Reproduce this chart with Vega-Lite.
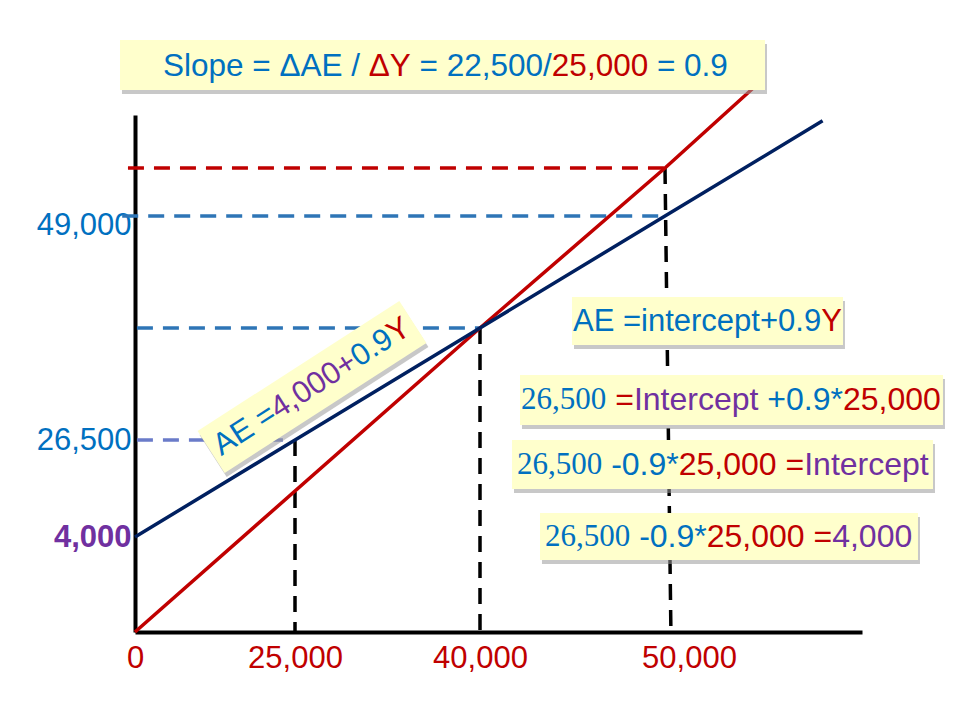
{
  "$schema": "https://vega.github.io/schema/vega-lite/v6.json",
  "width": 727,
  "height": 517,
  "autosize": {"type": "none"},
  "padding": {"left": 135, "top": 115, "right": 98, "bottom": 88},
  "background": "white",
  "config": {"view": {"stroke": null}, "font": "Liberation Sans", "axis": {"labelFont": "Liberation Sans"}},
  "datasets": {
    "lines": [
      {"series": "45-degree line", "x": 0, "y": 0},
      {"series": "45-degree line", "x": 40000, "y": 40000},
      {"series": "45-degree line", "x": 50000, "y": 50000},
      {"series": "45-degree line", "x": 54720, "y": 51590},
      {"series": "AE", "x": 0, "y": 4000},
      {"series": "AE", "x": 25000, "y": 26500},
      {"series": "AE", "x": 40000, "y": 40000},
      {"series": "AE", "x": 50000, "y": 49000},
      {"series": "AE", "x": 58000, "y": 50890}
    ],
    "guides": [
      {"ref": "income level", "x": -1100, "x2": 50000, "y": 50000, "y2": 50000},
      {"ref": "AE level", "x": -2000, "x2": 50000, "y": 49000, "y2": 49000},
      {"ref": "AE level", "x": 300, "x2": 40000, "y": 40000, "y2": 40000},
      {"ref": "AE at 25,000", "x": 300, "x2": 23900, "y": 26500, "y2": 26500},
      {"ref": "Y level", "x": 25000, "x2": 25000, "y": 26500, "y2": 0},
      {"ref": "Y level", "x": 40000, "x2": 40000, "y": 40000, "y2": 0},
      {"ref": "Y level", "x": 50000, "x2": 50300, "y": 50000, "y2": 0}
    ],
    "boxes": [
      {"box": "slope", "x": -2344, "x2": 55076, "y": 52415, "y2": 51472},
      {"box": "equation", "x": 44973, "x2": 59035, "y": 42491, "y2": 37951},
      {"box": "step1", "x": 42162, "x2": 64111, "y": 34335, "y2": 28308},
      {"box": "step2", "x": 41730, "x2": 63604, "y": 26500, "y2": 15134},
      {"box": "step3", "x": 43243, "x2": 62842, "y": 9567, "y2": 3031}
    ],
    "tilted": [
      {"box": "AE label", "x": 26378, "y": 32889}
    ],
    "texts": [
      {"box": "slope", "text": "Slope = ΔAE /", "term": "text", "x": 4375, "y": 51906},
      {"box": "slope", "text": "ΔY", "term": "income", "x": 30984, "y": 51906},
      {"box": "slope", "text": "= 22,500/", "term": "text", "x": 35103, "y": 51906},
      {"box": "slope", "text": "25,000", "term": "income", "x": 43884, "y": 51906},
      {"box": "slope", "text": "= 0.9", "term": "text", "x": 49561, "y": 51906},
      {"box": "equation", "text": "AE =intercept+0.9", "term": "text", "x": 45027, "y": 40482},
      {"box": "equation", "text": "Y", "term": "income", "x": 57929, "y": 40482},
      {"box": "step1", "text": "26,500", "term": "ae", "x": 42216, "y": 31322},
      {"box": "step1", "text": "=", "term": "income", "x": 47308, "y": 31322},
      {"box": "step1", "text": "Intercept", "term": "intercept", "x": 48318, "y": 31322},
      {"box": "step1", "text": "+0.9*", "term": "text", "x": 55193, "y": 31322},
      {"box": "step1", "text": "25,000", "term": "income", "x": 59030, "y": 31322},
      {"box": "step2", "text": "26,500", "term": "ae", "x": 42000, "y": 20701},
      {"box": "step2", "text": "-0.9*", "term": "text", "x": 47089, "y": 20701},
      {"box": "step2", "text": "25,000 =", "term": "income", "x": 50698, "y": 20701},
      {"box": "step2", "text": "Intercept", "term": "intercept", "x": 57066, "y": 20701},
      {"box": "step3", "text": "26,500", "term": "ae", "x": 43513, "y": 4000},
      {"box": "step3", "text": "-0.9*", "term": "text", "x": 48602, "y": 4000},
      {"box": "step3", "text": "25,000 =", "term": "income", "x": 52119, "y": 4000},
      {"box": "step3", "text": "4,000", "term": "intercept", "x": 58485, "y": 4000},
      {"box": "AE label", "text": "AE =", "term": "text", "x": 12719, "y": 24505},
      {"box": "AE label", "text": "4,000+", "term": "intercept", "x": 21656, "y": 29911},
      {"box": "AE label", "text": "0.9", "term": "text", "x": 29792, "y": 36155},
      {"box": "AE label", "text": "Y", "term": "income", "x": 32727, "y": 38976}
    ]
  },
  "resolve": {"scale": {"color": "independent"}},
  "layer": [
    {
      "data": {"name": "guides"},
      "mark": {"type": "rule", "strokeDash": [16, 10], "strokeWidth": 3.5},
      "encoding": {
        "x": {
          "field": "x", "type": "quantitative", "title": null,
          "scale": {"domain": [0, 25000, 40000, 50000, 60000], "range": [0, 160, 345, 530, 727], "nice": false, "zero": false},
          "axis": {
            "values": [0, 25000, 40000, 50000], "format": ",.0f", "title": null,
            "labelFont": "Liberation Sans", "labelFontSize": 31, "labelColor": "#c00000",
            "ticks": false, "grid": false, "domainColor": "black", "domainWidth": 4,
            "labelPadding": 11, "labelFlush": false, "labelOverlap": false, "labelBound": false,
            "labelOffset": {"condition": {"test": "datum.value == 50000", "value": 24}, "value": 0}
          }
        },
        "x2": {"field": "x2", "title": null},
        "y": {
          "field": "y", "type": "quantitative", "title": null,
          "scale": {"domain": [0, 4000, 26500, 40000, 49000, 50000, 51000], "range": [517, 422, 325, 213, 101, 53, 0], "nice": false, "zero": false},
          "axis": {
            "values": [4000, 26500, 49000], "format": ",.0f", "title": null,
            "labelFont": "Liberation Sans", "labelFontSize": 31,
            "labelColor": {"condition": {"test": "datum.value == 4000", "value": "#7030a0"}, "value": "#0070c0"},
            "labelFontWeight": {"condition": {"test": "datum.value == 4000", "value": "bold"}, "value": "normal"},
            "labelOffset": {"condition": {"test": "datum.value == 49000", "value": 9}, "value": 0},
            "ticks": false, "grid": false, "domainColor": "black", "domainWidth": 4,
            "labelPadding": 4, "labelFlush": false, "labelOverlap": false, "labelBound": false
          }
        },
        "y2": {"field": "y2", "title": null},
        "color": {
          "field": "ref", "type": "nominal", "legend": null,
          "scale": {"domain": ["income level", "AE level", "AE at 25,000", "Y level"], "range": ["#c00000", "#2e75b6", "#6a7bc9", "#000000"]}
        }
      }
    },
    {
      "data": {"name": "lines"},
      "mark": {"type": "line", "strokeWidth": 3.5},
      "encoding": {
        "x": {"field": "x", "type": "quantitative", "title": null},
        "y": {"field": "y", "type": "quantitative", "title": null},
        "color": {
          "field": "series", "type": "nominal", "legend": null,
          "scale": {"domain": ["45-degree line", "AE"], "range": ["#c00000", "#002060"]}
        }
      }
    },
    {
      "data": {"name": "boxes"},
      "mark": {"type": "rect", "fill": "#9a9a9a", "opacity": 0.55, "xOffset": 2, "x2Offset": 2, "yOffset": 4, "y2Offset": 4},
      "encoding": {
        "x": {"field": "x", "type": "quantitative", "title": null},
        "x2": {"field": "x2", "title": null},
        "y": {"field": "y", "type": "quantitative", "title": null},
        "y2": {"field": "y2", "title": null}
      }
    },
    {
      "data": {"name": "boxes"},
      "mark": {"type": "rect", "fill": "#ffffcc", "opacity": 1},
      "encoding": {
        "x": {"field": "x", "type": "quantitative", "title": null},
        "x2": {"field": "x2", "title": null},
        "y": {"field": "y", "type": "quantitative", "title": null},
        "y2": {"field": "y2", "title": null}
      }
    },
    {
      "data": {"name": "tilted"},
      "mark": {"type": "point", "shape": "M-1,-0.2083L1,-0.2083L1,0.2083L-1,0.2083Z", "size": 57600, "angle": 327.2, "filled": true, "color": "#9a9a9a", "opacity": 0.55, "strokeWidth": 0, "xOffset": 2, "yOffset": 4},
      "encoding": {
        "x": {"field": "x", "type": "quantitative", "title": null},
        "y": {"field": "y", "type": "quantitative", "title": null}
      }
    },
    {
      "data": {"name": "tilted"},
      "mark": {"type": "point", "shape": "M-1,-0.2083L1,-0.2083L1,0.2083L-1,0.2083Z", "size": 57600, "angle": 327.2, "filled": true, "color": "#ffffcc", "opacity": 1, "strokeWidth": 0},
      "encoding": {
        "x": {"field": "x", "type": "quantitative", "title": null},
        "y": {"field": "y", "type": "quantitative", "title": null}
      }
    },
    {
      "data": {"name": "texts"},
      "transform": [{"filter": "datum.box == 'slope'"}],
      "mark": {"type": "text", "align": "left", "baseline": "middle", "font": "Liberation Sans", "fontSize": 31.5},
      "encoding": {
        "x": {"field": "x", "type": "quantitative", "title": null},
        "y": {"field": "y", "type": "quantitative", "title": null},
        "text": {"field": "text"},
        "color": {"field": "term", "type": "nominal", "legend": null, "scale": {"domain": ["text", "ae", "income", "intercept"], "range": ["#0070c0", "#0070c0", "#c00000", "#7030a0"]}}
      }
    },
    {
      "data": {"name": "texts"},
      "transform": [{"filter": "datum.box == 'equation'"}],
      "mark": {"type": "text", "align": "left", "baseline": "middle", "font": "Liberation Sans", "fontSize": 31},
      "encoding": {
        "x": {"field": "x", "type": "quantitative", "title": null},
        "y": {"field": "y", "type": "quantitative", "title": null},
        "text": {"field": "text"},
        "color": {"field": "term", "type": "nominal", "legend": null, "scale": {"domain": ["text", "ae", "income", "intercept"], "range": ["#0070c0", "#0070c0", "#c00000", "#7030a0"]}}
      }
    },
    {
      "data": {"name": "texts"},
      "transform": [{"filter": "indexof(['step1','step2','step3'], datum.box) >= 0 && datum.term != 'ae'"}],
      "mark": {"type": "text", "align": "left", "baseline": "middle", "font": "Liberation Sans", "fontSize": 32},
      "encoding": {
        "x": {"field": "x", "type": "quantitative", "title": null},
        "y": {"field": "y", "type": "quantitative", "title": null},
        "text": {"field": "text"},
        "color": {"field": "term", "type": "nominal", "legend": null, "scale": {"domain": ["text", "ae", "income", "intercept"], "range": ["#0070c0", "#0070c0", "#c00000", "#7030a0"]}}
      }
    },
    {
      "data": {"name": "texts"},
      "transform": [{"filter": "datum.term == 'ae'"}],
      "mark": {"type": "text", "align": "left", "baseline": "middle", "font": "Liberation Serif", "fontSize": 31, "color": "#0070c0"},
      "encoding": {
        "x": {"field": "x", "type": "quantitative", "title": null},
        "y": {"field": "y", "type": "quantitative", "title": null},
        "text": {"field": "text"}
      }
    },
    {
      "data": {"name": "texts"},
      "transform": [{"filter": "datum.box == 'AE label'"}],
      "mark": {"type": "text", "align": "left", "baseline": "middle", "font": "Liberation Sans", "fontSize": 31, "angle": 327.2},
      "encoding": {
        "x": {"field": "x", "type": "quantitative", "title": null},
        "y": {"field": "y", "type": "quantitative", "title": null},
        "text": {"field": "text"},
        "color": {"field": "term", "type": "nominal", "legend": null, "scale": {"domain": ["text", "ae", "income", "intercept"], "range": ["#0070c0", "#0070c0", "#c00000", "#7030a0"]}}
      }
    }
  ]
}
